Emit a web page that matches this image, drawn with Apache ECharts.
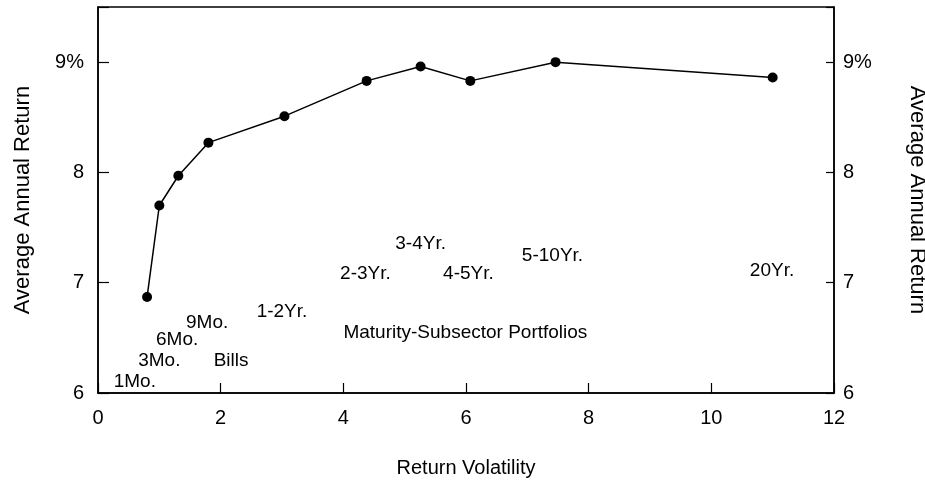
<!DOCTYPE html>
<html>
<head>
<meta charset="utf-8">
<script src="https://cdn.jsdelivr.net/npm/echarts@6/dist/echarts.min.js"></script>
<style>
  html, body { margin: 0; padding: 0; background: #fff; }
  #chart { width: 925px; height: 482px; }
</style>
</head>
<body>
<div id="chart"></div>
<script>
// return volatility vs average annual return, maturity subsectors
let volatility = [0.80, 1.0, 1.31, 1.80, 3.04, 4.38, 5.26, 6.07, 7.46, 11.0]
let avgReturn = [6.87, 7.70, 7.97, 8.27, 8.51, 8.83, 8.96, 8.83, 9.0, 8.86]

// annotation texts and where they sit in data units
let labelTexts = ['1Mo.', '3Mo.', '6Mo.', '9Mo.', 'Bills', '1-2Yr.', '2-3Yr.', '3-4Yr.', '4-5Yr.', '5-10Yr.', '20Yr.', 'Maturity-Subsector Portfolios']
let labelX = [0.60, 1.0, 1.29, 1.78, 2.17, 3.0, 4.36, 5.26, 6.04, 7.41, 10.99, 5.99]
let labelY = [6.10, 6.29, 6.48, 6.64, 6.29, 6.74, 7.08, 7.35, 7.08, 7.24, 7.11, 6.55]

let xTicks = [0, 2, 4, 6, 8, 10, 12]
let yTickLabels = { 6: '6', 7: '7', 8: '8', 9: '9%' }

const font = '"Liberation Sans", Arial, sans-serif'
const chart = echarts.init(document.getElementById('chart'))

function yAxisCfg(pos) {
  return {
    type: 'value',
    position: pos,
    min: 6,
    max: 9.5,
    interval: 1,
    name: 'Average Annual Return',
    nameLocation: 'middle',
    nameGap: pos === 'left' ? 64 : 72,
    nameRotate: pos === 'left' ? 90 : -90,
    nameTextStyle: { color: '#000', fontSize: 22, fontFamily: font },
    axisLine: { show: true, lineStyle: { color: '#000', width: 1.5 } },
    axisTick: { show: true, inside: true, length: pos === 'left' ? 11 : 8, lineStyle: { color: '#000', width: 1.2 } },
    axisLabel: {
      color: '#000',
      fontSize: 20,
      fontFamily: font,
      margin: pos === 'left' ? 14 : 9,
      formatter: v => (v in yTickLabels ? yTickLabels[v] : '')
    },
    splitLine: { show: false }
  }
}

chart.setOption({
  animation: false,
  backgroundColor: '#fff',
  grid: {
    left: 98,
    right: 91,
    top: 7,
    bottom: 89,
    outerBoundsMode: 'none',
    show: true,
    borderColor: '#000',
    borderWidth: 1.5
  },
  xAxis: {
    type: 'value',
    min: 0,
    max: 12,
    interval: 2,
    name: 'Return Volatility',
    nameLocation: 'middle',
    nameGap: 65,
    nameTextStyle: { color: '#000', fontSize: 20, fontFamily: font },
    axisLine: { show: true, lineStyle: { color: '#000', width: 1.5 } },
    axisTick: { show: true, inside: true, length: 10, lineStyle: { color: '#000', width: 1.2 } },
    axisLabel: {
      color: '#000',
      fontSize: 20,
      fontFamily: font,
      margin: 15,
      formatter: v => (xTicks.indexOf(v) >= 0 ? String(v) : '')
    },
    splitLine: { show: false }
  },
  yAxis: [yAxisCfg('left'), yAxisCfg('right')],
  series: [
    {
      type: 'line',
      data: volatility.map((x, i) => [x, avgReturn[i]]),
      symbol: 'circle',
      symbolSize: 10,
      lineStyle: { color: '#000', width: 1.5 },
      itemStyle: { color: '#000' }
    },
    {
      type: 'scatter',
      symbolSize: 0,
      itemStyle: { color: '#000', opacity: 1 },
      data: labelTexts.map((t, i) => ({ value: [labelX[i], labelY[i]], name: t })),
      label: {
        show: true,
        position: 'inside',
        formatter: p => p.name,
        color: '#000',
        textBorderWidth: 0,
        fontSize: 19,
        fontFamily: font
      },
      silent: true
    }
  ]
})
</script>
</body>
</html>
